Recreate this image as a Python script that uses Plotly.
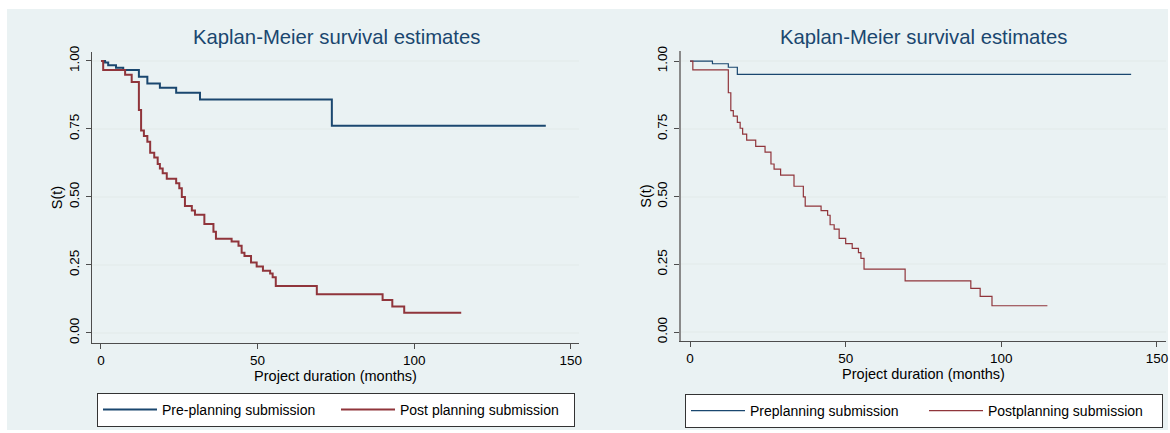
import plotly.graph_objects as go

# ---------------- data ----------------
# Left panel: Kaplan-Meier step curves
left_pre_t = [0, 1.3, 2.3, 4.8, 7.1, 12.1, 14.8, 18.8, 24.0, 31.6, 73.7, 142.0]
left_pre_s = [1.0, 0.994, 0.984, 0.975, 0.967, 0.942, 0.917, 0.902, 0.883, 0.858, 0.762, 0.762]

left_post_t = [0, 0.7, 7.7, 9.8, 12.1, 12.8, 13.7, 14.8, 15.7, 17.0, 18.1, 18.8, 19.7, 21.0,
               24.0, 25.0, 25.8, 26.8, 29.0, 30.0, 33.0, 35.9, 36.7, 41.7, 43.9, 44.9, 45.8,
               47.9, 49.7, 51.7, 54.0, 54.8, 55.8, 68.9, 89.9, 93.0, 96.8, 115.0]
left_post_s = [1.0, 0.967, 0.949, 0.923, 0.820, 0.744, 0.724, 0.703, 0.663, 0.645, 0.621, 0.605,
               0.587, 0.567, 0.550, 0.532, 0.500, 0.467, 0.450, 0.435, 0.401, 0.372, 0.346,
               0.336, 0.321, 0.295, 0.283, 0.259, 0.244, 0.229, 0.219, 0.205, 0.173, 0.142,
               0.121, 0.097, 0.074, 0.074]

# Right panel
right_pre_t = [0, 7.2, 12.3, 15.2, 141.7]
right_pre_s = [1.0, 0.990, 0.977, 0.951, 0.951]

right_post_t = [0, 0.9, 12.3, 13.1, 13.9, 15.2, 16.1, 16.9, 18.2, 21.1, 24.1, 26.0, 27.0, 29.1,
                33.4, 36.4, 37.0, 42.1, 44.2, 45.0, 46.3, 47.9, 50.0, 52.1, 54.1, 54.9, 55.9,
                69.1, 90.2, 93.2, 97.0, 114.8]
right_post_s = [1.0, 0.967, 0.883, 0.817, 0.797, 0.774, 0.752, 0.730, 0.708, 0.685, 0.664,
                0.620, 0.601, 0.579, 0.538, 0.499, 0.465, 0.448, 0.431, 0.396, 0.380, 0.346,
                0.326, 0.309, 0.293, 0.272, 0.232, 0.189, 0.161, 0.132, 0.097, 0.097]

x_ticks = [0, 50, 100, 150]
y_ticks = [0.0, 0.25, 0.5, 0.75, 1.0]
title_text = "Kaplan-Meier survival estimates"
x_title = "Project duration (months)"
y_title = "S(t)"
left_names = ["Pre-planning submission", "Post planning submission"]
right_names = ["Preplanning submission", "Postplanning submission"]

# ---------------- styling ----------------
W, H = 1170, 433
NAVY = "#1a476f"
MAROON = "#90353b"
BG = "#eaf2f3"
GRID = "#e6eeee"
FONT = "Liberation Sans, Arial, sans-serif"


def px_x(p):
    return p / W


def px_y(p):
    return 1 - p / H


fig = go.Figure()

fig.add_trace(go.Scatter(x=left_pre_t, y=left_pre_s, mode="lines", line=dict(shape="hv", color=NAVY, width=2),
                         name=left_names[0], xaxis="x", yaxis="y", legend="legend"))
fig.add_trace(go.Scatter(x=left_post_t, y=left_post_s, mode="lines", line=dict(shape="hv", color=MAROON, width=2),
                         name=left_names[1], xaxis="x", yaxis="y", legend="legend"))
fig.add_trace(go.Scatter(x=right_pre_t, y=right_pre_s, mode="lines", line=dict(shape="hv", color=NAVY, width=1.2),
                         name=right_names[0], xaxis="x2", yaxis="y2", legend="legend2"))
fig.add_trace(go.Scatter(x=right_post_t, y=right_post_s, mode="lines", line=dict(shape="hv", color=MAROON, width=1.2),
                         name=right_names[1], xaxis="x2", yaxis="y2", legend="legend2"))

axis_common = dict(
    showgrid=False, zeroline=False, showline=True, linecolor="#4d4d4d", linewidth=1,
    ticks="outside", ticklen=5, tickcolor="#4d4d4d", tickwidth=1,
    tickfont=dict(family=FONT, size=13.5, color="black"),
    title_font=dict(family=FONT, size=14.5, color="black"),
)
x_common = dict(axis_common, tickvals=x_ticks, title_text=x_title, title_standoff=1)
y_common = dict(axis_common, tickvals=y_ticks, tickformat=".2f", tickangle=-90, ticklabelstandoff=2,
                showgrid=True, gridcolor=GRID, gridwidth=1.5, title_text=y_title, title_standoff=0)

legend_common = dict(orientation="h", xanchor="left", yanchor="top",
                     bgcolor="white", bordercolor="#333333", borderwidth=1,
                     font=dict(family=FONT, size=14, color="black"),
                     itemwidth=54, entrywidth=169, tracegroupgap=0)

fig.update_layout(
    width=W, height=H,
    margin=dict(l=0, r=0, t=0, b=0, autoexpand=False),
    paper_bgcolor="white",
    plot_bgcolor="white",
    font=dict(family=FONT, size=13, color="black"),
    xaxis=dict(x_common, domain=[px_x(92), px_x(579)], range=[-2.87, 152.6], anchor="y"),
    yaxis=dict(y_common, domain=[px_y(343), px_y(52)], range=[-0.037, 1.033], anchor="x"),
    xaxis2=dict(x_common, domain=[px_x(681), px_x(1166)], range=[-2.9, 152.9], anchor="y2"),
    yaxis2=dict(y_common, domain=[px_y(341), px_y(51)], range=[-0.033, 1.037], anchor="x2",
                linecolor="#8a8a8a", linewidth=2),
    legend=dict(legend_common, x=px_x(97), y=px_y(393)),
    legend2=dict(legend_common, x=px_x(685), y=px_y(394)),
    shapes=[dict(type="rect", xref="paper", yref="paper", x0=px_x(7), x1=px_x(1168),
                 y0=px_y(430), y1=px_y(9), fillcolor=BG, line=dict(width=0), layer="below")],
    annotations=[
        dict(text=title_text, x=px_x(336), y=px_y(37), xref="paper", yref="paper", showarrow=False,
             xanchor="center", yanchor="middle", font=dict(family=FONT, size=20.3, color=NAVY)),
        dict(text=title_text, x=px_x(923), y=px_y(37), xref="paper", yref="paper", showarrow=False,
             xanchor="center", yanchor="middle", font=dict(family=FONT, size=20.3, color=NAVY)),
    ],
)

fig.write_html("out.html")
